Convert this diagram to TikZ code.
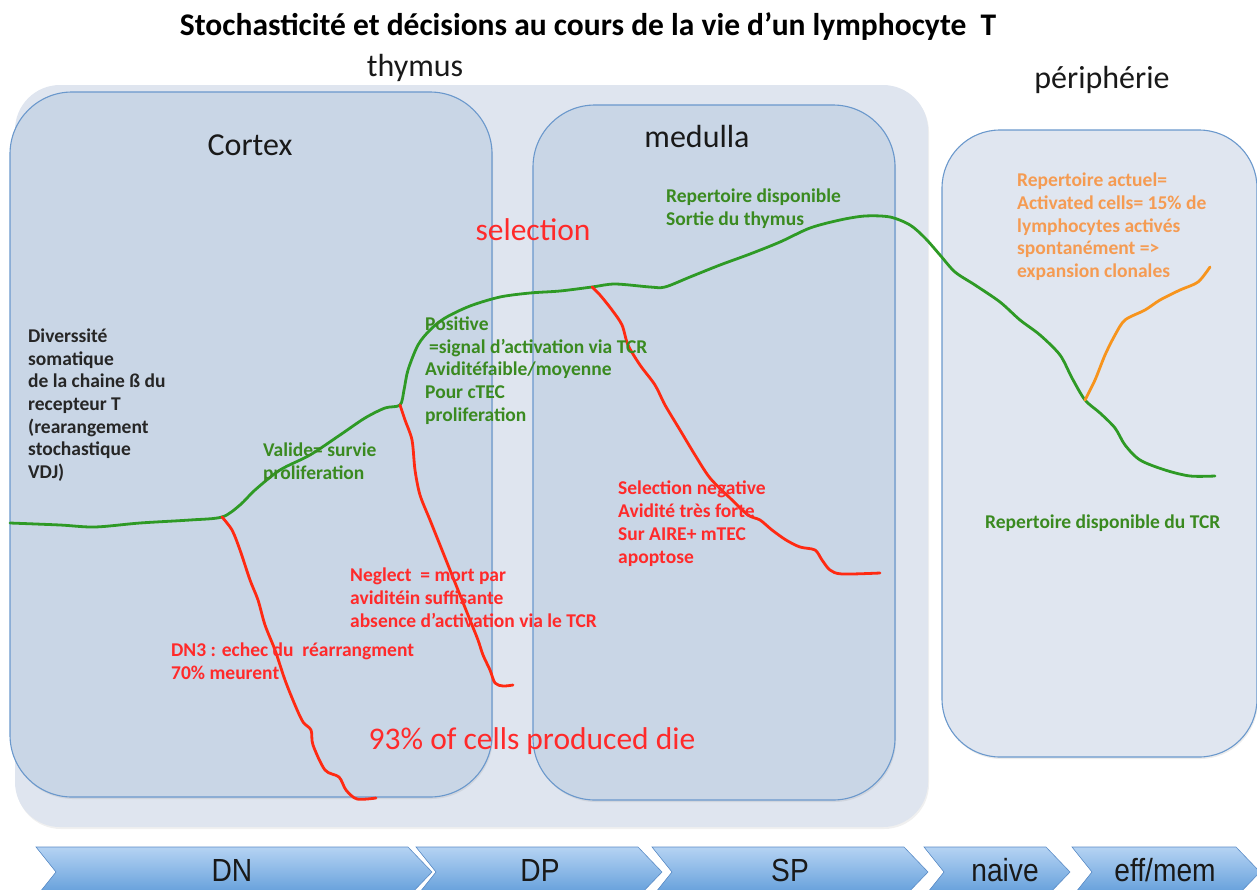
\documentclass[tikz,border=0pt]{standalone}
\usepackage{fontspec}
\setmainfont{Carlito}
\newfontfamily\narrowfont[FakeStretch=0.88]{Liberation Sans}
\usetikzlibrary{shadows}
\definecolor{boxblue}{HTML}{6A98CC}
\definecolor{cortexfill}{HTML}{C9D6E6}
\definecolor{thymfill}{HTML}{DFE5EF}
\definecolor{perifill}{HTML}{E0E6F0}
\definecolor{lgreen}{HTML}{2E9A25}
\definecolor{tgreen}{HTML}{3A8A20}
\definecolor{lred}{HTML}{FF2A12}
\definecolor{tred}{HTML}{FF2A2A}
\definecolor{lorange}{HTML}{F7941D}
\definecolor{torange}{HTML}{F59B52}
\definecolor{chevtop}{HTML}{B5D3F3}
\definecolor{chevbot}{HTML}{5E9BD9}
\definecolor{chevedge}{HTML}{5B8CC6}
\begin{document}
\begin{tikzpicture}[x=1pt,y=-1pt,
  zone/.style={draw=boxblue, line width=1.1pt},
  gline/.style={draw=lgreen, line width=2.8pt, line cap=round, line join=round},
  rline/.style={draw=lred, line width=2.8pt, line cap=round, line join=round},
  oline/.style={draw=lorange, line width=2.8pt, line cap=round, line join=round},
  txt/.style={inner sep=0pt, anchor=north west, align=left, font=\fontsize{19.5}{22.7}\selectfont\bfseries},
  gtext/.style={txt, text=tgreen},
  rtext/.style={txt, text=tred},
  otext/.style={txt, text=torange},
  btext/.style={txt, text=black!85},
  label/.style={inner sep=0pt, text=black!90, font=\fontsize{32}{36}\selectfont},
  bigred/.style={inner sep=0pt, text=tred, font=\fontsize{31.5}{36}\selectfont},
  chev/.style={draw=chevedge, line width=0.6pt, top color=chevtop, bottom color=chevbot},
  chevlabel/.style={inner sep=0pt, text=black!90, font=\narrowfont\fontsize{32}{36}\selectfont}
]
\useasboundingbox (0,0) rectangle (1257,889);
\clip (0,0) rectangle (1257,889);

% thymus outer zone
\fill[thymfill, rounded corners=45pt, drop shadow={opacity=0.12, shadow xshift=1pt, shadow yshift=-2pt}] (15,85) rectangle (928,827);
% cortex
\path[zone, fill=cortexfill, rounded corners=62pt, drop shadow={opacity=0.15, shadow xshift=1pt, shadow yshift=-2pt}] (10,92) rectangle (492,797);
% medulla
\path[zone, fill=cortexfill, rounded corners=62pt, drop shadow={opacity=0.15, shadow xshift=1pt, shadow yshift=-2pt}] (533,105) rectangle (895,800);
% periphery
\path[zone, fill=perifill, rounded corners=58pt, drop shadow={opacity=0.15, shadow xshift=1pt, shadow yshift=-2pt}] (942,130) rectangle (1257,757);

% titles
\node[inner sep=0pt, font=\fontsize{31.5}{36}\selectfont\bfseries] (title) at (588,27) {Stochasticité et décisions au cours de la vie d’un lymphocyte~ T};
\node[label] (thymus) at (415,68) {thymus};
\node[label] (peri) at (1102,80) {périphérie};
\node[label] (cortex) at (250,145) {Cortex};
\node[label] (medulla) at (697,137) {medulla};
\node[bigred] (selection) at (533,230) {selection};
\node[bigred] (die) at (532,741) {93\% of cells produced die};

% branch points
\coordinate (b1) at (222,517);
\coordinate (b2) at (400,405);
\coordinate (b3) at (592,287);
\coordinate (b4) at (1085,400);

% main green trajectory
\draw[gline] plot[smooth, tension=0.5] coordinates {(10,523) (60,525) (95,527) (140,523) (190,520) (b1) (240,505) (255,490) (280,470) (310,455) (340,435) (365,418) (385,408) (b2) (404,390) (408,370) (418,345) (430,330) (445,318) (470,306) (500,297) (530,293) (560,291) (b3) (615,284) (650,287) (665,287) (690,277) (720,265) (750,254) (780,242) (810,228) (840,220) (865,216) (890,217) (910,225) (925,238) (940,255) (955,272) (975,285) (1000,302) (1020,320) (1040,335) (1060,355) (1072,378) (b4) (1100,413) (1115,428) (1125,445) (1140,460) (1165,470) (1190,476) (1215,476)};

% orange branch
\draw[oline] plot[smooth, tension=0.5] coordinates {(b4) (1095,380) (1105,355) (1115,335) (1125,320) (1145,310) (1160,300) (1180,290) (1198,282) (1210,267)};

% red branches
\draw[rline] plot[smooth, tension=0.5] coordinates {(b1) (232,530) (240,550) (250,580) (258,600) (265,625) (275,650) (285,680) (295,705) (303,722) (311,730) (313,745) (325,770) (339,777) (346,790) (357,799) (376,798)};
\draw[rline] plot[smooth, tension=0.5] coordinates {(b2) (405,420) (412,440) (415,470) (420,495) (430,520) (440,545) (450,570) (460,595) (470,620) (478,640) (483,655) (490,670) (495,683) (503,686) (513,685)};
\draw[rline] plot[smooth, tension=0.5] coordinates {(b3) (600,295) (612,310) (622,325) (628,345) (640,365) (655,385) (665,405) (680,430) (695,455) (710,478) (730,498) (748,515) (760,520) (772,530) (786,540) (800,547) (815,550) (822,560) (830,570) (842,574) (880,573)};

% annotations
\node[btext] (divers) at (28,328.5) {Diverssité\\somatique\\de la chaine ß du\\recepteur T\\(rearangement\\stochastique\\VDJ)};
\node[gtext] (valide) at (263,442.5) {Valide= survie\\proliferation};
\node[gtext] (positive) at (425,316.5) {Positive\\\hspace*{4pt}=signal d’activation via TCR\\Aviditéfaible/moyenne\\Pour cTEC\\proliferation};
\node[gtext] (sortie) at (666,189) {Repertoire disponible\\Sortie du thymus};
\node[rtext] (negative) at (618,481) {Selection negative\\Avidité très forte\\Sur AIRE+ mTEC\\apoptose};
\node[rtext] (neglect) at (350,568) {Neglect~ = mort par\\aviditéin suffisante\\absence d’activation via le TCR};
\node[rtext] (dn3) at (171,643) {DN3 : echec du~ réarrangment\\70\% meurent};
\node[otext] (actuel) at (1017,173) {Repertoire actuel=\\Activated cells= 15\% de\\lymphocytes activés\\spontanément =>\\expansion clonales};
\node[gtext] (tcr) at (985,515) {Repertoire disponible du TCR};

% stage chevrons
\path[chev] (36,847) -- (408,847) -- (432,872) -- (408,897) -- (36,897) -- (56,872) -- cycle;
\path[chev] (416,847) -- (638,847) -- (662,872) -- (638,897) -- (416,897) -- (436,872) -- cycle;
\path[chev] (652,847) -- (904,847) -- (928,872) -- (904,897) -- (652,897) -- (672,872) -- cycle;
\path[chev] (924,847) -- (1046,847) -- (1070,872) -- (1046,897) -- (924,897) -- (944,872) -- cycle;
\path[chev] (1072,847) -- (1236,847) -- (1260,872) -- (1236,897) -- (1072,897) -- (1092,872) -- cycle;
\node[chevlabel] (dn) at (232,870) {DN};
\node[chevlabel] (dp) at (540,870) {DP};
\node[chevlabel] (sp) at (790,870) {SP};
\node[chevlabel] (naive) at (1005,870) {naive};
\node[chevlabel] (effmem) at (1165,870) {eff/mem};
\end{tikzpicture}
\end{document}
